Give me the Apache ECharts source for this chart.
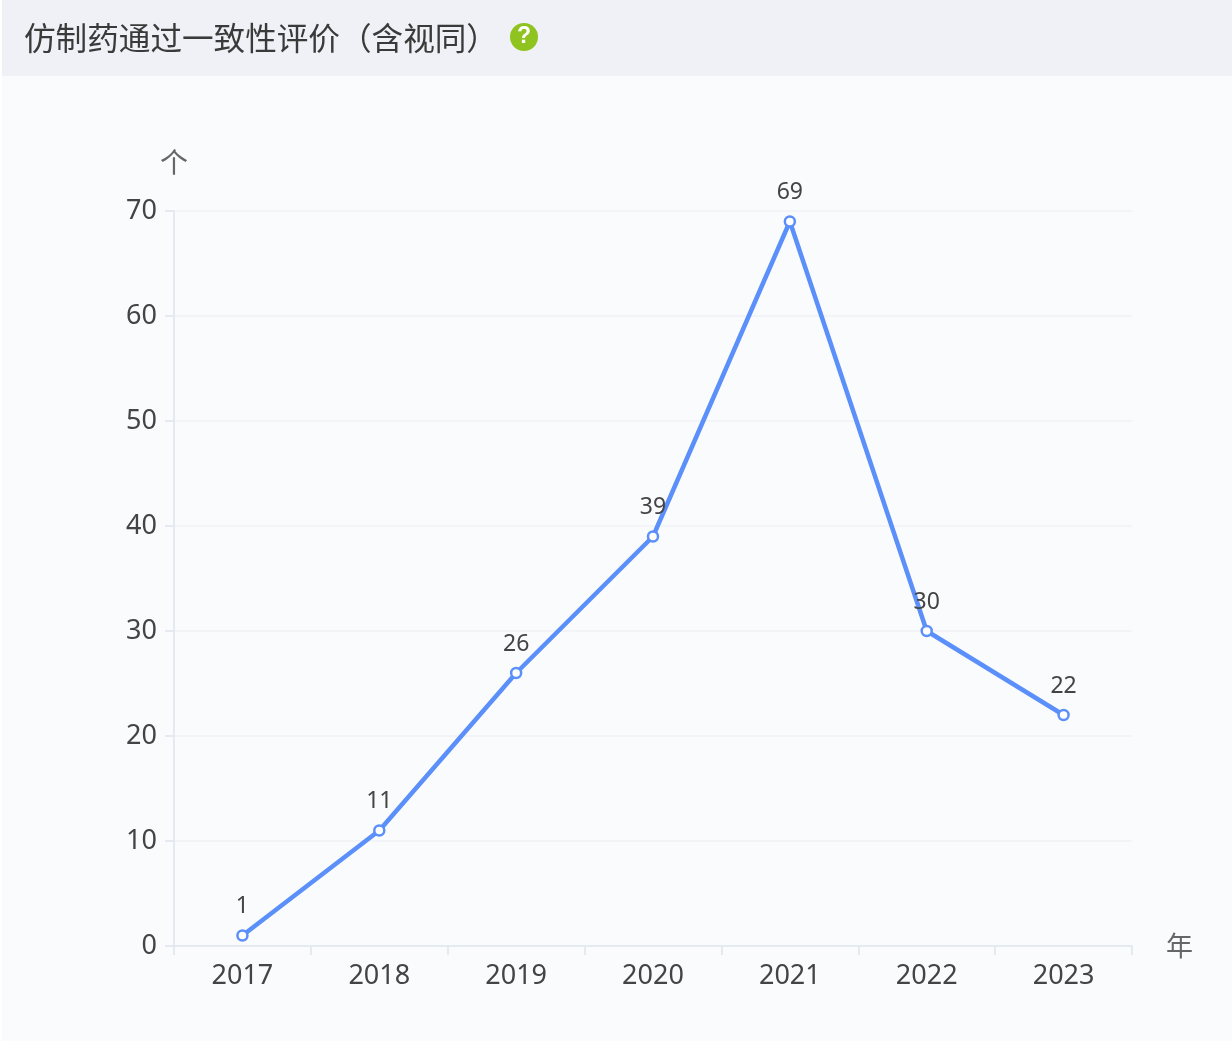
<!DOCTYPE html>
<html><head><meta charset="utf-8">
<style>html,body{margin:0;padding:0;background:#fff;overflow:hidden}#c{width:1232px;height:1041px}</style>
<script src="https://cdn.jsdelivr.net/npm/echarts@6/dist/echarts.min.js"></script>
</head><body><div id="c"></div>
<script>
const years = ['2017','2018','2019','2020','2021','2022','2023'];
const counts = [1,11,26,39,69,30,22];
const titleText = '仿制药通过一致性评价（含视同）';
const font = '"Noto Sans","Noto Sans CJK SC",sans-serif';
const cjk = '"Noto Sans CJK SC",sans-serif';
const chart = echarts.init(document.getElementById('c'));
chart.setOption({
  animation:false,
  title:{text:titleText,left:24,top:17,padding:0,textStyle:{fontSize:31.6,fontWeight:'normal',color:'#3a3a3a',fontFamily:cjk,lineHeight:42}},
  graphic:[
    {type:'rect',z:-10,shape:{x:2,y:76,width:1230,height:965},style:{fill:'#fafbfd'}},
    {type:'rect',z:-10,shape:{x:2,y:0,width:1230,height:76},style:{fill:'#f0f1f6'}},
    {type:'circle',shape:{cx:524,cy:37,r:14},style:{fill:'#8fc31f'}},
    {type:'text',style:{x:524,y:37,text:'?',fill:'#fff',font:'bold 23px "Liberation Sans"',align:'center',verticalAlign:'middle'}}
  ],
  grid:{left:174,right:100,top:211,bottom:95,containLabel:false},
  xAxis:{type:'category',data:years,boundaryGap:true,name:'年',nameGap:34,
    nameTextStyle:{fontSize:27,color:'#666',fontFamily:cjk,verticalAlign:'middle',padding:[0,0,10,0]},
    axisLine:{show:true,lineStyle:{color:'#e4eaf0',width:2}},
    axisTick:{show:true,length:9,lineStyle:{color:'#e4eaf0',width:2}},
    axisLabel:{fontSize:27,color:'#444',margin:17,fontFamily:font}},
  yAxis:{type:'value',min:0,max:70,interval:10,name:'个',nameGap:35,
    nameTextStyle:{fontSize:28,color:'#666',fontFamily:cjk,align:'center'},
    axisLine:{show:true,lineStyle:{color:'#e4eaf0',width:2}},
    axisTick:{show:true,length:9,lineStyle:{color:'#e4eaf0',width:2}},
    splitLine:{lineStyle:{color:'#f2f4f8',width:2}},
    axisLabel:{fontSize:27,color:'#444',margin:17,fontFamily:font,padding:[0,0,6,0]}},
  series:[{type:'line',data:counts,symbol:'circle',symbolSize:10,showSymbol:true,
    lineStyle:{color:'#5b8ff9',width:4.5},
    itemStyle:{color:'#fff',borderColor:'#5b8ff9',borderWidth:2.5},
    label:{show:true,position:'top',distance:11,fontSize:23,color:'#444',fontFamily:font}}]
});
</script></body></html>
